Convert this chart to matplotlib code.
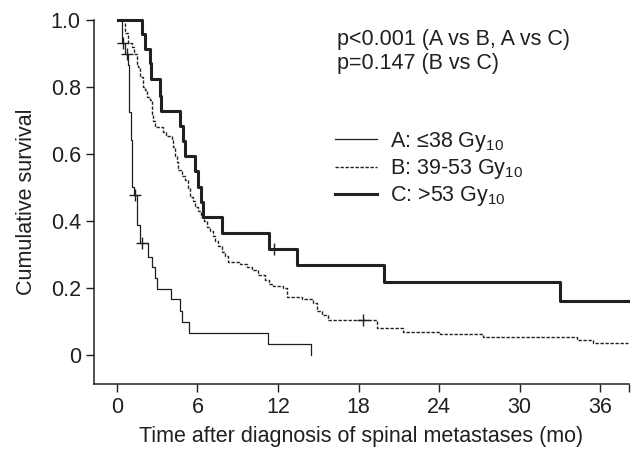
import matplotlib
matplotlib.use("Agg")
import matplotlib.pyplot as plt
from matplotlib.lines import Line2D

plt.rcParams['font.family'] = ['Liberation Sans', 'DejaVu Sans']
plt.rcParams['mathtext.fontset'] = 'custom'
plt.rcParams['mathtext.rm'] = 'Liberation Sans'
plt.rcParams['mathtext.it'] = 'Liberation Sans'
plt.rcParams['mathtext.default'] = 'regular'

# Kaplan-Meier curves (months, survival after each drop)
start_t = 0.1
end_t = 38.1

times_a = [0.40, 0.60, 0.80, 0.92, 1.02, 1.14, 1.27, 1.47, 1.71, 2.33, 2.58,
           2.83, 2.95, 4.02, 4.72, 4.87, 5.37, 11.27, 14.43]
surv_a = [0.93, 0.90, 0.866, 0.726, 0.642, 0.502, 0.479, 0.388, 0.333, 0.293,
          0.262, 0.229, 0.197, 0.166, 0.132, 0.100, 0.067, 0.033, 0.0]
cens_a_t = [0.47, 0.72, 1.34, 1.84]
cens_a_s = [0.93, 0.90, 0.479, 0.333]

times_b = [0.60, 0.82, 1.10, 1.27, 1.47, 1.59, 1.71, 1.96, 2.09, 2.24,
           2.46, 2.59, 2.70, 2.83, 3.45, 3.65, 4.08, 4.17, 4.32, 4.47,
           4.57, 4.84, 5.07, 5.29, 5.44, 5.66, 5.81, 6.04, 6.26, 6.48,
           6.68, 6.93, 7.15, 7.30, 7.53, 7.80, 8.05, 8.29, 9.17, 9.69,
           10.06, 10.53, 11.03, 11.33, 11.62, 12.39, 12.65, 13.76, 14.63, 14.88,
           15.28, 15.72, 19.35, 21.33, 24.07, 27.29, 34.25, 35.49]
surv_b = [0.96, 0.93, 0.92, 0.90, 0.87, 0.86, 0.83, 0.80, 0.79, 0.77,
          0.76, 0.72, 0.70, 0.68, 0.667, 0.655, 0.642, 0.62, 0.595, 0.575,
          0.552, 0.535, 0.522, 0.50, 0.473, 0.46, 0.443, 0.43, 0.413, 0.40,
          0.383, 0.37, 0.355, 0.34, 0.325, 0.308, 0.295, 0.279, 0.272, 0.263,
          0.255, 0.239, 0.225, 0.212, 0.206, 0.20, 0.174, 0.166, 0.154, 0.132,
          0.12, 0.106, 0.08, 0.07, 0.062, 0.055, 0.045, 0.037]
cens_b_t = [18.33]
cens_b_s = [0.106]

times_c = [1.9, 2.1, 2.45, 2.55, 3.2, 3.3, 4.7, 4.95, 5.1, 5.82, 6.06, 6.26,
           6.39, 7.8, 11.35, 13.45, 19.9, 33.0]
surv_c = [0.957, 0.913, 0.871, 0.823, 0.774, 0.728, 0.684, 0.640, 0.595,
          0.549, 0.502, 0.458, 0.413, 0.365, 0.316, 0.269, 0.217, 0.161]
cens_c_t = [11.72]
cens_c_s = [0.316]

labels = ['A: ≤38 Gy$_{10}$', 'B: 39-53 Gy$_{10}$', 'C: >53 Gy$_{10}$']
pvals = ['p<0.001 (A vs B, A vs C)', 'p=0.147 (B vs C)']
xticks = [0, 6, 12, 18, 24, 30, 36]
yticks = [0, 0.2, 0.4, 0.6, 0.8, 1.0]
yticklabels = ['0', '0.2', '0.4', '0.6', '0.8', '1.0']

col = '#231f20'
fs = 15.5

fig = plt.figure(figsize=(6.43, 4.66), dpi=100)
ax = fig.add_axes([0.1462, 0.1770, 0.8320, 0.7800])

# A
ax.step([start_t] + times_a, [1.0] + surv_a, where='post', color=col, lw=0.9,
        clip_on=False)
ax.plot(cens_a_t, cens_a_s, '+', color=col, ms=8, mew=1.0, clip_on=False)
# B
ax.step([start_t] + times_b + [end_t], [1.0] + surv_b + [surv_b[-1]],
        where='post', color=col, lw=1.0, dashes=(2.4, 1.2), clip_on=False)
ax.plot(cens_b_t, cens_b_s, '+', color=col, ms=8, mew=1.0, clip_on=False)
# C
ax.step([start_t] + times_c + [end_t], [1.0] + surv_c + [surv_c[-1]],
        where='post', color=col, lw=2.2, clip_on=False)
ax.plot(cens_c_t, cens_c_s, '+', color=col, ms=8, mew=1.0, clip_on=False)

ax.set_xlim(-1.71, 38.15)
ax.set_ylim(-0.085, 1.0)
ax.set_xticks(xticks)
ax.set_xticks([38.15], minor=True)
ax.set_yticks(yticks)
ax.set_yticklabels(yticklabels)
for s in ['top', 'right']:
    ax.spines[s].set_visible(False)
for s in ['left', 'bottom']:
    ax.spines[s].set_color(col)
    ax.spines[s].set_linewidth(1.1)
ax.tick_params(which='both', direction='out', length=5.5, width=1.0,
               color=col, labelsize=fs, labelcolor=col, pad=4)
ax.set_xlabel('Time after diagnosis of spinal metastases (mo)', fontsize=fs,
              color=col, labelpad=6)
ax.set_ylabel('Cumulative survival', fontsize=fs, color=col, labelpad=10)

fig.text(0.5236, 0.9157, pvals[0], fontsize=fs, color=col, va='center')
fig.text(0.5236, 0.8630, pvals[1], fontsize=fs, color=col, va='center')

handles = [Line2D([], [], color=col, lw=0.9),
           Line2D([], [], color=col, lw=1.0, dashes=(2.4, 1.2)),
           Line2D([], [], color=col, lw=2.2)]
leg = fig.legend(handles, labels, loc='upper left',
                 bbox_to_anchor=(0.521, 0.721), frameon=False, fontsize=fs,
                 handlelength=1.95, handletextpad=0.6, labelspacing=0.15,
                 borderpad=0, borderaxespad=0)
for t in leg.get_texts():
    t.set_color(col)

fig.savefig('out.png', dpi=100)
